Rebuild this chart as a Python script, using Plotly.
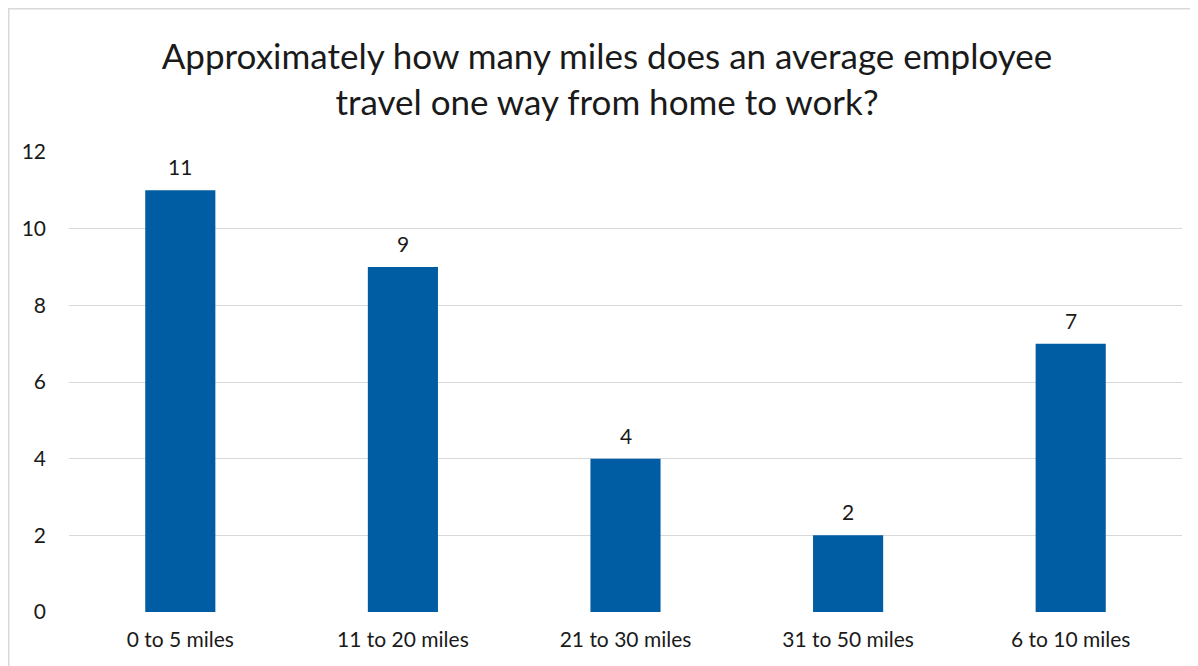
import plotly.graph_objects as go

categories = ["0 to 5 miles", "11 to 20 miles", "21 to 30 miles", "31 to 50 miles", "6 to 10 miles"]
values = [11, 9, 4, 2, 7]
y_ticks = [0, 2, 4, 6, 8, 10, 12]

FONT = "Lato, 'Open Sans', sans-serif"
BAR_COLOR = "#005DA3"
TXT = "#1a1a1a"

W, H = 1190, 658          # page body has an 8px margin
L, R, T, B = 61, 16, 144, 54
PW, PH = W - L - R, H - T - B

fig = go.Figure(go.Bar(
    x=categories, y=values,
    marker=dict(color=BAR_COLOR, line=dict(width=0)),
    width=0.315,
    hoverinfo="skip",
))

for c, v in zip(categories, values):
    fig.add_annotation(x=c, y=v, text=str(v), showarrow=False,
                       yanchor="bottom", yshift=9,
                       font=dict(family=FONT, size=21, color=TXT))

fig.update_layout(
    width=W, height=H,
    margin=dict(l=L, r=R, t=T, b=B),
    paper_bgcolor="white", plot_bgcolor="white",
    font=dict(family=FONT, color=TXT),
    title=dict(
        text="Approximately how many miles does an average employee<br>travel one way from home to work?",
        x=599 / W, xanchor="center",
        y=1 - 61 / H, yanchor="middle",
        font=dict(family=FONT, size=35, color=TXT),
    ),
    xaxis=dict(showgrid=False, showline=False, ticks="", zeroline=False,
               tickfont=dict(family=FONT, size=21, color=TXT),
               ticklabelstandoff=13, fixedrange=True),
    yaxis=dict(range=[0, 12], tickvals=y_ticks, showgrid=True, gridcolor="#D9D9D9",
               gridwidth=1.3, zeroline=False, showline=False, ticks="",
               tickfont=dict(family=FONT, size=21, color=TXT),
               ticklabelstandoff=22, fixedrange=True),
    showlegend=False,
    shapes=[dict(type="rect", xref="paper", yref="paper",
                 x0=(0.75 - L) / PW, x1=1 + 40 / PW,
                 y0=-120 / PH, y1=1 + (T - 0.75) / PH,
                 line=dict(color="#D9D9D9", width=1.5), fillcolor="rgba(0,0,0,0)",
                 layer="below")],
)

fig.write_html("out.html")
